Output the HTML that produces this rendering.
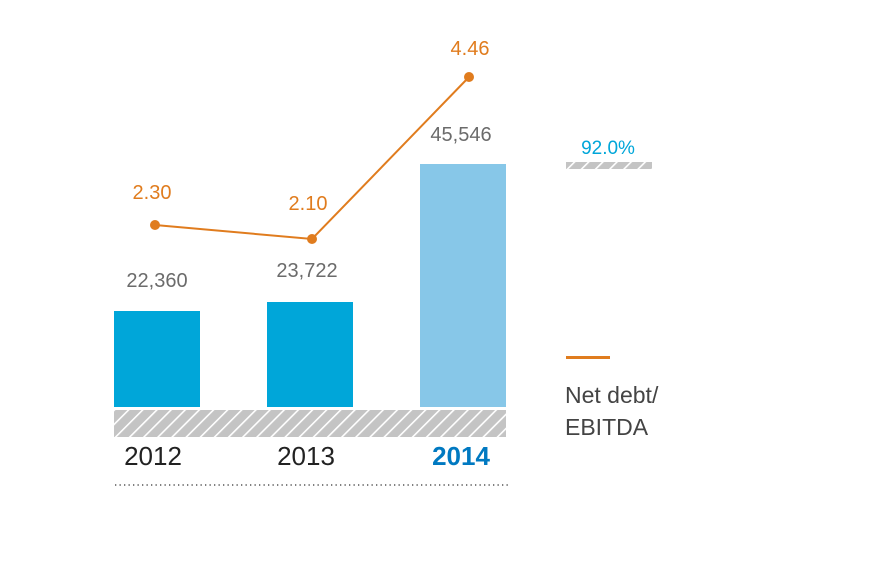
<!DOCTYPE html>
<html><head><meta charset="utf-8"><style>
html,body{margin:0;padding:0;background:#fff;}
svg{display:block;font-family:"Liberation Sans",sans-serif;}
</style></head><body>
<svg width="880" height="572" viewBox="0 0 880 572" xmlns="http://www.w3.org/2000/svg">
<defs>
<pattern id="h" patternUnits="userSpaceOnUse" width="10" height="10" patternTransform="rotate(45)">
<rect width="10" height="10" fill="#c4c4c4"/>
<rect x="0" y="0" width="1.6" height="10" fill="#fff"/>
</pattern>
</defs>
<rect x="114" y="311" width="86" height="96" fill="#00a6d9"/>
<rect x="267" y="302" width="86" height="105" fill="#00a6d9"/>
<rect x="420" y="164" width="86" height="243" fill="#87c7e8"/>
<rect x="114" y="410" width="392" height="27" fill="url(#h)"/>
<rect x="566" y="162" width="86" height="7" fill="url(#h)"/>
<line x1="115" y1="485" x2="508" y2="485" stroke="#333" stroke-width="1.3" stroke-dasharray="1.3 3.2"/>
<polyline points="155,225 312,239 469,77" fill="none" stroke="#e07c1e" stroke-width="2"/>
<circle cx="155" cy="225" r="5" fill="#e07c1e"/>
<circle cx="312" cy="239" r="5" fill="#e07c1e"/>
<circle cx="469" cy="77" r="5" fill="#e07c1e"/>
<g font-size="20" fill="#e07c1e" text-anchor="middle">
<text x="152" y="199">2.30</text>
<text x="308" y="210">2.10</text>
<text x="470" y="55">4.46</text>
</g>
<g font-size="20" fill="#6b6b6b" text-anchor="middle">
<text x="157" y="287">22,360</text>
<text x="307" y="277">23,722</text>
<text x="461" y="141">45,546</text>
</g>
<text x="608" y="154" font-size="19" fill="#00a6d9" text-anchor="middle">92.0%</text>
<g font-size="26" text-anchor="middle">
<text x="153" y="465" fill="#222">2012</text>
<text x="306" y="465" fill="#222">2013</text>
<text x="461" y="465" fill="#0079c1" font-weight="bold">2014</text>
</g>
<rect x="566" y="356" width="44" height="3" fill="#e07c1e"/>
<g font-size="23" fill="#444">
<text x="565" y="403">Net debt/</text>
<text x="565" y="435">EBITDA</text>
</g>
</svg>
</body></html>
